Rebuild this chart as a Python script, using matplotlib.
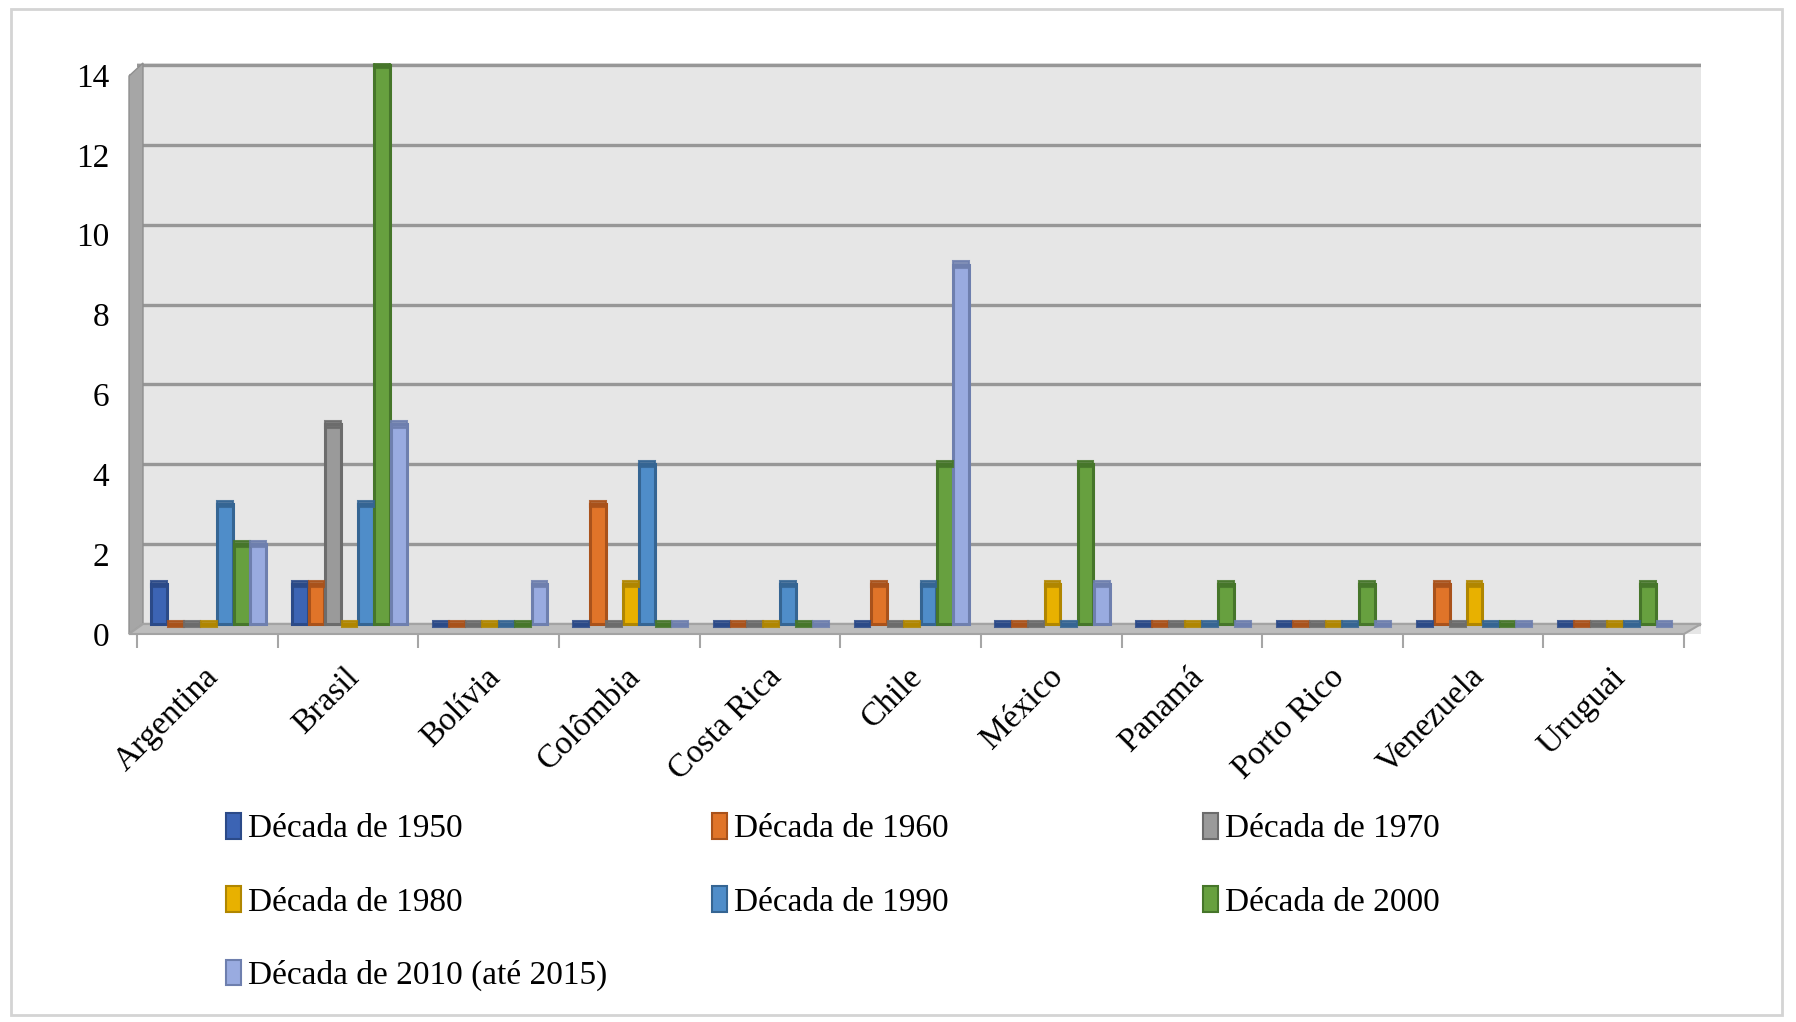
import matplotlib
matplotlib.use("Agg")
import matplotlib.pyplot as plt
import matplotlib.transforms as mtransforms
from matplotlib.patches import Polygon, Rectangle
import numpy as np

plt.rcParams['font.family'] = ['Liberation Serif', 'DejaVu Serif']

paises = ['Argentina', 'Brasil', 'Bolívia', 'Colômbia', 'Costa Rica', 'Chile',
          'México', 'Panamá', 'Porto Rico', 'Venezuela', 'Uruguai']
decadas = ['Década de 1950', 'Década de 1960', 'Década de 1970', 'Década de 1980',
           'Década de 1990', 'Década de 2000', 'Década de 2010 (até 2015)']

d1950 = [1, 1, 0, 0, 0, 0, 0, 0, 0, 0, 0]
d1960 = [0, 1, 0, 3, 0, 1, 0, 0, 0, 1, 0]
d1970 = [0, 5, 0, 0, 0, 0, 0, 0, 0, 0, 0]
d1980 = [0, 0, 0, 1, 0, 0, 1, 0, 0, 1, 0]
d1990 = [3, 3, 0, 4, 1, 1, 0, 0, 0, 0, 0]
d2000 = [2, 14, 0, 0, 0, 4, 4, 1, 1, 0, 1]
d2010 = [2, 5, 1, 0, 0, 9, 1, 0, 0, 0, 0]
series = [d1950, d1960, d1970, d1980, d1990, d2000, d2010]

cores = ['#3c64b4', '#e07429', '#9a9a9a', '#e8b100', '#4f8dc9', '#67a03f', '#99abe0']
bordas = ['#2b4a88', '#a9521b', '#6c6c6c', '#b08600', '#356593', '#46762a', '#6e7fae']

W, H = 1796, 1022
fig = plt.figure(figsize=(W / 100, H / 100), dpi=100)


def fx(px):
    return px / W


def fy(py):
    return 1 - py / H


ax = fig.add_axes([fx(137), fy(634), fx(1701) - fx(137), fy(63) - fy(634)])
ax.set_facecolor('#e6e6e6')
ax.set_xlim(0, 11.12)
ax.set_ylim(-0.25, 14.05)

# back wall grid
ax.set_yticks(range(0, 15, 2))
ax.yaxis.grid(True, color='#979797', linewidth=2.4)
ax.set_axisbelow(True)
for s in ax.spines.values():
    s.set_visible(False)

# left wall and floor (3D look)
ax.add_patch(Polygon([(fx(129), fy(76)), (fx(143), fy(63)), (fx(143), fy(624)), (fx(129), fy(634))],
                     closed=True, transform=fig.transFigure, clip_on=False,
                     facecolor='#a6a6a6', edgecolor='#8f8f8f', lw=1, zorder=1))
ax.add_patch(Polygon([(fx(129), fy(634)), (fx(1684), fy(634)), (fx(1701), fy(624)), (fx(143), fy(624))],
                     closed=True, transform=fig.transFigure, clip_on=False,
                     facecolor='#bdbdbd', edgecolor='#a3a3a3', lw=1.5, zorder=1))

x = np.arange(len(paises)) + 0.5
passo = 0.117
larg = 0.112
cap = 0.16
for j, vals in enumerate(series):
    pos = x + (j - 3) * passo + 0.01
    vals = np.array(vals, dtype=float)
    ax.bar(pos, vals, width=larg, color=cores[j], edgecolor=bordas[j], linewidth=2.2, zorder=3)
    ax.bar(pos, cap, bottom=vals - cap / 2, width=larg, color=bordas[j],
           edgecolor=bordas[j], linewidth=1.5, alpha=0.85, zorder=4)

# ticks
ax.set_xticks(np.arange(0, 12))
ax.set_xticklabels([])
ax.set_xticks(x, minor=True)
ax.set_xticklabels(paises, minor=True, rotation=45, ha='right', rotation_mode='anchor')
ax.tick_params(axis='x', which='major', length=10, width=1.5, color='#a6a6a6')
ax.tick_params(axis='x', which='minor', length=0, pad=20, labelsize=24)
ax.tick_params(axis='y', length=6, width=1.5, color='#b3b3b3', pad=14, labelsize=24)

off = mtransforms.ScaledTranslation(0, -10 / 100, fig.dpi_scale_trans)
for t in ax.yaxis.get_major_ticks():
    t.tick1line.set_transform(t.tick1line.get_transform() + off)
    t.label1.set_transform(t.label1.get_transform() + off)
xoff = mtransforms.ScaledTranslation(-4 / 100, 0, fig.dpi_scale_trans)
for lab in ax.get_xticklabels(minor=True):
    lab.set_transform(lab.get_transform() + xoff)

# legend: three columns, row-major order
handles = [Rectangle((0, 0), 1, 1, facecolor=cores[j], edgecolor=bordas[j], lw=1.5) for j in range(7)]
colunas = [[0, 3, 6], [1, 4], [2, 5]]
col_x = [226, 712, 1203]
for idx, cx in zip(colunas, col_x):
    fig.legend([handles[i] for i in idx], [decadas[i] for i in idx],
               loc='upper left', bbox_to_anchor=(fx(cx), fy(813)), frameon=False,
               fontsize=24, handlelength=0.45, handleheight=0.8, handletextpad=0.2,
               labelspacing=1.26, borderpad=0, borderaxespad=0)

# chart area border
fig.add_artist(Rectangle((fx(11), fy(1015)), fx(1782) - fx(11), fy(9) - fy(1015),
                         transform=fig.transFigure, fill=False, edgecolor='#d4d4d4', lw=2))

fig.savefig('out.png', dpi=100)
